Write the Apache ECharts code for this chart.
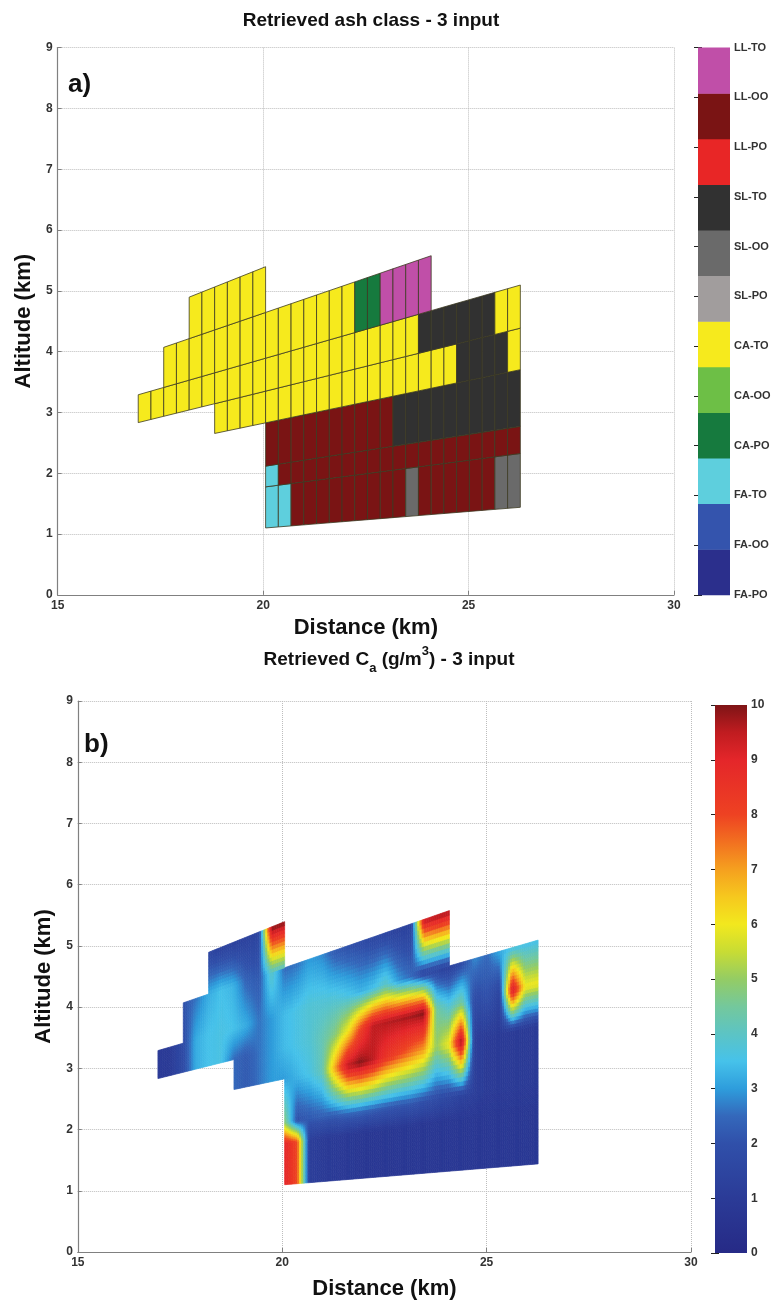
<!DOCTYPE html>
<html><head><meta charset="utf-8">
<script src="https://cdn.jsdelivr.net/npm/echarts@6/dist/echarts.min.js"></script>
<style>html,body{margin:0;padding:0;background:#fff}#c{width:781px;height:1304px}</style>
</head><body><div id="c"></div>
<script>
// ---------------- DATA ----------------
const classNames = ['FA-PO','FA-OO','FA-TO','CA-PO','CA-OO','CA-TO','SL-PO','SL-OO','SL-TO','LL-PO','LL-OO','LL-TO'];
const classColors = ['#2b2f8c','#3454ad','#5ecfdd','#167a3e','#6dbf46','#f6ea1d','#a19d9d','#6a6a6a','#313131','#e82626','#7a1414','#c04fa8'];
// range-gate edges along distance (km)
const gateEdges = [16.96,17.27,17.58,17.89,18.20,18.51,18.82,19.13,19.44,19.75,20.06,20.37,20.68,20.99,21.30,21.61,21.92,22.23,22.54,22.85,23.16,23.47,23.78,24.09,24.40,24.71,25.02,25.33,25.64,25.95,26.26];
// beam boundaries as altitude / distance
const beamSlopes = [0.0548,0.0885,0.1055,0.141,0.167,0.194,0.2315,0.269];
const _ = null;
// class index per beam row (row 0 = lowest beam), per gate
const classRow0 = [_,_,_,_,_,_,_,_,_,_, 2,2,10,10,10,10,10,10,10,10, 10,7,10,10,10,10,10,10,7,7];
const classRow1 = [_,_,_,_,_,_,_,_,_,_, 2,10,10,10,10,10,10,10,10,10, 10,10,10,10,10,10,10,10,10,10];
const classRow2 = [_,_,_,_,_,_,_,_,_,_, 10,10,10,10,10,10,10,10,10,10, 8,8,8,8,8,8,8,8,8,8];
const classRow3 = [_,_,_,_,_,_,5,5,5,5, 5,5,5,5,5,5,5,5,5,5, 5,5,5,5,5,8,8,8,8,5];
const classRow4 = [5,5,5,5,5,5,5,5,5,5, 5,5,5,5,5,5,5,5,5,5, 5,5,8,8,8,8,8,8,5,5];
const classRow5 = [_,_,5,5,5,5,5,5,5,5, 5,5,5,5,5,5,5,3,3,11, 11,11,11,_,_,_,_,_,_,_];
const classRow6 = [_,_,_,_,5,5,5,5,5,5, _,_,_,_,_,_,_,_,_,_, _,_,_,_,_,_,_,_,_,_];
// retrieved concentration Ca (g/m3), per beam row and gate (value at the upper-left node of each cell)
const concRow0 = [_,_,_,_,_,_,_,_,_,_, 9.0,8.0,1.2,1.0,1.0,0.9,0.8,0.8,0.8,0.8, 0.8,0.8,0.8,0.8,0.8,0.8,0.8,0.8,0.8,0.8];
const concRow1 = [_,_,_,_,_,_,_,_,_,_, 5.0,2.0,2.2,2.3,2.3,2.5,2.5,2.4,2.3,2.2, 2.2,2.0,1.8,1.6,1.4,1.2,1.0,1.0,1.0,1.0];
const concRow2 = [_,_,_,_,_,_,_,_,_,_, 3.0,3.3,3.6,4.2,7.0,9.5,10.0,9.5,8.5,8.0, 7.5,7.0,5.0,6.0,10.0,1.2,1.0,1.0,1.0,1.0];
const concRow3 = [_,_,_,_,_,_,2.5,2.2,2.6,3.0, 3.4,3.6,3.8,4.2,4.8,6.0,8.0,9.5,9.6,9.7, 9.8,10.0,4.5,3.8,4.5,1.8,2.0,1.5,9.5,6.0];
const concRow4 = [1.0,1.0,1.8,3.2,3.5,3.6,3.5,3.2,2.6,3.0, 3.4,3.6,3.8,3.8,3.8,3.6,3.3,3.5,4.0,3.0, 2.5,1.5,1.5,1.2,1.8,2.8,2.5,3.2,3.5,3.5];
const concRow5 = [_,_,2.0,2.6,3.2,3.5,3.3,2.4,2.2,4.0, 2.5,2.6,3.0,2.8,2.2,2.0,1.8,1.6,1.5,1.3, 1.3,9.5,9.8,_,_,_,_,_,_,_];
const concRow6 = [_,_,_,_,1.5,1.3,1.3,1.3,1.5,10.0, _,_,_,_,_,_,_,_,_,_, _,_,_,_,_,_,_,_,_,_];

// ---------------- BUILD ----------------
const classRows = [classRow0,classRow1,classRow2,classRow3,classRow4,classRow5,classRow6];
const concRows = [concRow0,concRow1,concRow2,concRow3,concRow4,concRow5,concRow6];

function cellCenter(j,i){
  const xc=(gateEdges[j]+gateEdges[j+1])/2, sc=(beamSlopes[i]+beamSlopes[i+1])/2;
  return [xc, xc*sc];
}
const classCells=[], concCells=[];
classRows.forEach((row,i)=>row.forEach((k,j)=>{ if(k!=null){ const c=cellCenter(j,i); classCells.push([c[0],c[1],j,i,k]); }}));
concRows.forEach((row,i)=>row.forEach((v,j)=>{ if(v!=null){ const c=cellCenter(j,i); concCells.push([c[0],c[1],j,i,v]); }}));

const cmapStops=[[0,'#262a86'],[1,'#2b3b97'],[2,'#3050aa'],[2.5,'#3468bb'],[3,'#2e9ddc'],[3.5,'#46c2ea'],[4,'#5cc4c4'],[4.5,'#74c89c'],[5,'#94cc64'],[5.5,'#c8dc34'],[6,'#f2e81e'],[6.5,'#f6c81e'],[7,'#f5a01f'],[7.5,'#f27020'],[8,'#ee4222'],[9,'#e4262a'],[9.5,'#c01c20'],[10,'#7e1416']];
function hex2rgb(h){return [parseInt(h.substr(1,2),16),parseInt(h.substr(3,2),16),parseInt(h.substr(5,2),16)];}
const cmapRGB=cmapStops.map(s=>[s[0],hex2rgb(s[1])]);
function jet(v){
  v=Math.max(0,Math.min(10,v));
  for(let k=0;k<cmapRGB.length-1;k++){
    const a=cmapRGB[k],b=cmapRGB[k+1];
    if(v<=b[0]){const t=(v-a[0])/(b[0]-a[0]);
      return 'rgb('+[0,1,2].map(c=>Math.round(a[1][c]+(b[1][c]-a[1][c])*t)).join(',')+')';}
  }
  const l=cmapRGB[cmapRGB.length-1][1];return 'rgb('+l.join(',')+')';
}
function concAt(i,j){const r=concRows[i]; if(!r) return null; const v=r[j]; return v==null?null:v;}
function cornerValues(i,j){
  const TL=concAt(i,j);
  const TRr=concAt(i,j+1), BLr=concAt(i-1,j);
  const TR=TRr==null?TL:TRr, BL=BLr==null?TL:BLr;
  let BR;
  if(TRr==null) BR=BL;
  else { const d=concAt(i-1,j+1); BR=d!=null?d:(BLr==null?TR:BL); }
  return {TL,TR,BL,BR};
}
function ptAt(api,j,i,u,v){
  const x=gateEdges[j]+u*(gateEdges[j+1]-gateEdges[j]);
  const s=beamSlopes[i]+v*(beamSlopes[i+1]-beamSlopes[i]);
  return api.coord([x,x*s]);
}

const FONT="'Liberation Sans', Arial, sans-serif";
const axisCommon = {
  axisLine:{show:true,lineStyle:{color:'#808080',width:1.2}},
  axisTick:{show:true,inside:true,length:4,lineStyle:{color:'#808080'}},
  splitLine:{show:true,lineStyle:{type:'dotted',color:'#bdbdbd',width:1}},
  axisLabel:{color:'#333',fontSize:12,fontWeight:'bold',fontFamily:FONT,margin:5},
  nameTextStyle:{color:'#111',fontSize:22,fontWeight:'bold',fontFamily:FONT}
};
function xAx(gi,gap){return Object.assign({},axisCommon,{type:'value',gridIndex:gi,min:15,max:30,interval:5,name:'Distance (km)',nameLocation:'middle',nameGap:gap});}
function yAx(gi,gap){return Object.assign({},axisCommon,{type:'value',gridIndex:gi,min:0,max:9,interval:1,name:'Altitude (km)',nameLocation:'middle',nameGap:gap,nameRotate:90});}
const cbarAxisLabel={color:'#333',fontSize:11,fontWeight:'bold',fontFamily:FONT,margin:4};

const option={
  animation:false,
  backgroundColor:'#fff',
  title:[
    {text:'Retrieved ash class - 3 input',left:366,top:6,textAlign:'center',textStyle:{fontSize:19,fontWeight:'bold',color:'#111',fontFamily:FONT}},
    {text:'{m|Retrieved C}{s|a}{m| (g/m}{p|3}{m|) - 3 input}',left:384,top:640,textAlign:'center',
     textStyle:{rich:{
       m:{fontSize:19,fontWeight:'bold',color:'#111',fontFamily:FONT,lineHeight:30,verticalAlign:'middle'},
       s:{fontSize:13,fontWeight:'bold',color:'#111',fontFamily:FONT,lineHeight:30,verticalAlign:'bottom'},
       p:{fontSize:13,fontWeight:'bold',color:'#111',fontFamily:FONT,lineHeight:30,verticalAlign:'top'}}}}
  ],
  grid:[
    {left:57.7,top:47.6,width:616.3,height:547.2},
    {left:698,top:47.6,width:32,height:547.2},
    {left:77.8,top:701,width:613.2,height:551},
    {left:715,top:705,width:32,height:548}
  ],
  xAxis:[
    xAx(0,22),
    {type:'value',gridIndex:1,min:0,max:1,show:false},
    xAx(2,26),
    {type:'value',gridIndex:3,min:0,max:1,show:false}
  ],
  yAxis:[
    yAx(0,16),
    {type:'value',gridIndex:1,min:0,max:11,interval:1,position:'right',
     axisLine:{show:false},axisTick:{show:true,inside:true,length:4,lineStyle:{color:'#222'}},splitLine:{show:false},
     axisLabel:Object.assign({},cbarAxisLabel,{formatter:v=>classNames[v]})},
    yAx(2,18),
    {type:'value',gridIndex:3,min:0,max:10,interval:1,position:'right',
     axisLine:{show:false},axisTick:{show:true,inside:true,length:4,lineStyle:{color:'#222'}},splitLine:{show:false},
     axisLabel:Object.assign({},cbarAxisLabel,{fontSize:12})},
    {type:'value',gridIndex:1,min:0,max:11,interval:1,position:'left',
     axisLine:{show:false},axisTick:{show:true,inside:true,length:4,lineStyle:{color:'#222'}},splitLine:{show:false},axisLabel:{show:false}},
    {type:'value',gridIndex:3,min:0,max:10,interval:1,position:'left',
     axisLine:{show:false},axisTick:{show:true,inside:true,length:4,lineStyle:{color:'#222'}},splitLine:{show:false},axisLabel:{show:false}}
  ],
  graphic:[
    {type:'text',left:68,top:72,z:10,style:{text:'a)',fontSize:26,fontWeight:'bold',fill:'#111',fontFamily:FONT}},
    {type:'text',left:84,top:732,z:10,style:{text:'b)',fontSize:26,fontWeight:'bold',fill:'#111',fontFamily:FONT}}
  ],
  series:[
    {type:'custom',xAxisIndex:0,yAxisIndex:0,data:classCells,encode:{x:0,y:1},z:3,
     renderItem:function(params,api){
       const j=api.value(2),i=api.value(3),k=api.value(4);
       return {type:'polygon',shape:{points:[ptAt(api,j,i,0,0),ptAt(api,j,i,1,0),ptAt(api,j,i,1,1),ptAt(api,j,i,0,1)]},
         style:{fill:classColors[k],stroke:'#3c3a22',lineWidth:0.8}};
     }},
    {type:'custom',xAxisIndex:1,yAxisIndex:1,data:classNames.map((n,k)=>[0.5,k]),encode:{x:0,y:1},z:3,
     renderItem:function(params,api){
       const k=api.value(1);
       const p0=api.coord([0,k*11/12]),p1=api.coord([1,(k+1)*11/12]);
       return {type:'rect',shape:{x:p0[0],y:p1[1],width:p1[0]-p0[0],height:p0[1]-p1[1]+0.5},style:{fill:classColors[k]}};
     }},
    {type:'custom',xAxisIndex:2,yAxisIndex:2,data:concCells,encode:{x:0,y:1},z:3,
     renderItem:function(params,api){
       const j=api.value(2),i=api.value(3);
       const c=cornerValues(i,j);
       const KU=6,KV=12,children=[];
       for(let a=0;a<KU;a++)for(let b=0;b<KV;b++){
         const u0=a/KU,u1=(a+1)/KU,v0=b/KV,v1=(b+1)/KV;
         const u=(u0+u1)/2,v=(v0+v1)/2;
         const val=c.BL*(1-u)*(1-v)+c.BR*u*(1-v)+c.TL*(1-u)*v+c.TR*u*v;
         const col=jet(val);
         children.push({type:'polygon',shape:{points:[ptAt(api,j,i,u0,v0),ptAt(api,j,i,u1,v0),ptAt(api,j,i,u1,v1),ptAt(api,j,i,u0,v1)]},
           style:{fill:col,stroke:col,lineWidth:0.7}});
       }
       return {type:'group',children:children};
     }},
    {type:'custom',xAxisIndex:3,yAxisIndex:3,data:[[0.5,5]],encode:{x:0,y:1},z:3,
     renderItem:function(params,api){
       const p0=api.coord([0,0]),p1=api.coord([1,10]);
       const stops=cmapStops.map(s=>({offset:1-s[0]/10,color:s[1]})).reverse();
       return {type:'rect',shape:{x:p0[0],y:p1[1],width:p1[0]-p0[0],height:p0[1]-p1[1]},
         style:{fill:{type:'linear',x:0,y:0,x2:0,y2:1,colorStops:stops}}};
     }}
  ]
};
const chart=echarts.init(document.getElementById('c'),null,{renderer:'canvas'});
chart.setOption(option);
</script></body></html>
